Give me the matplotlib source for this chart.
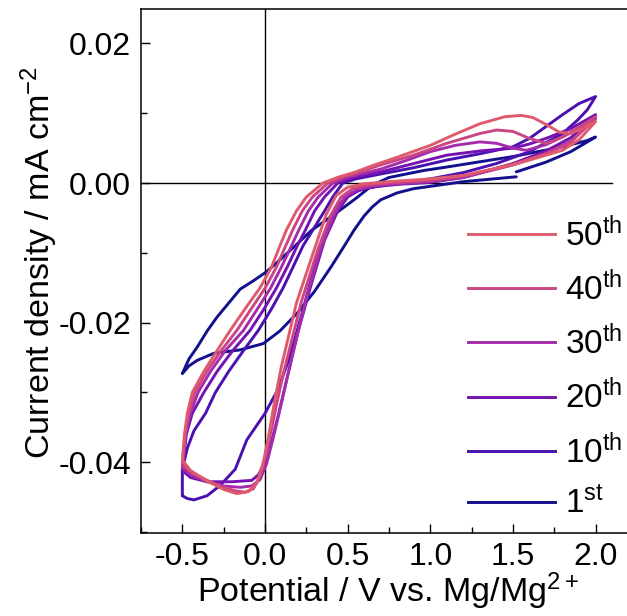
import matplotlib
matplotlib.use("Agg")
import matplotlib.pyplot as plt
from matplotlib.lines import Line2D
from matplotlib.ticker import MultipleLocator, FormatStrFormatter

plt.rcParams['font.family'] = ['Liberation Sans', 'DejaVu Sans']
plt.rcParams['mathtext.fontset'] = 'custom'
plt.rcParams['mathtext.rm'] = 'Liberation Sans'
plt.rcParams['mathtext.it'] = 'Liberation Sans:italic'
plt.rcParams['axes.unicode_minus'] = False

# ---------------- data ----------------
labels = ["1$^{\\mathrm{st}}$", "10$^{\\mathrm{th}}$", "20$^{\\mathrm{th}}$",
          "30$^{\\mathrm{th}}$", "40$^{\\mathrm{th}}$", "50$^{\\mathrm{th}}$"]
colors = ["#12108f", "#4b10b0", "#7412b2", "#a52dab", "#cb4584", "#de5a6c"]

# 1st cycle (open path: start at OCV -> 2.0 V -> -0.5 V -> back to OCV)
c1_x = [1.52, 1.70, 1.85, 2.00, 1.95, 1.80, 1.50, 1.10, 0.96, 0.75, 0.65, 0.55, 0.43,
        0.28, 0.20, 0.10, 0.01, -0.07, -0.15, -0.22, -0.29, -0.35, -0.41, -0.46, -0.50,
        -0.46, -0.41, -0.31, -0.15, -0.01, 0.09, 0.20, 0.30, 0.40, 0.48, 0.54, 0.60,
        0.65, 0.70, 0.80, 0.90, 1.20, 1.52]
c1_y = [0.0016, 0.0030, 0.0045, 0.0066, 0.0061, 0.0052, 0.0038, 0.0023, 0.0018, 0.0008,
        -0.0003, -0.0022, -0.0043, -0.0068, -0.0086, -0.0108, -0.0127, -0.0140, -0.0152,
        -0.0172, -0.0192, -0.0212, -0.0235, -0.0252, -0.0273,
        -0.0262, -0.0254, -0.0244, -0.0239, -0.0230, -0.0212, -0.0185, -0.0155, -0.0120,
        -0.0090, -0.0067, -0.0047, -0.0034, -0.0024, -0.0014, -0.0008, 0.0002, 0.0009]

# cycles 10-50: upper path (vertex -> left branch -> 2.0 V) and lower path
c10_ux = [-0.50, -0.50, -0.47, -0.43, -0.36, -0.30, -0.22, -0.13, -0.04, 0.04, 0.11, 0.17,
          0.23, 0.29, 0.36, 0.41, 0.47, 0.55, 0.70, 0.90, 1.10, 1.30, 1.50, 1.60, 1.70,
          1.80, 1.90, 2.00]
c10_uy = [-0.0448, -0.0410, -0.0380, -0.0355, -0.0330, -0.0300, -0.0270, -0.0240, -0.0211,
          -0.0180, -0.0150, -0.0120, -0.0090, -0.0067, -0.0040, -0.0020, 0.0000, 0.0006,
          0.0013, 0.0022, 0.0033, 0.0042, 0.0052, 0.0064, 0.0081, 0.0098, 0.0114, 0.0124]
c10_lx = [-0.50, -0.47, -0.43, -0.35, -0.27, -0.18, -0.11, 0.00, 0.08, 0.15, 0.22, 0.30,
          0.38, 0.45, 0.52, 0.60, 0.70, 0.80, 1.00, 1.20, 1.40, 1.60, 1.80, 1.89, 1.95, 2.00]
c10_ly = [-0.0448, -0.0452, -0.0454, -0.0448, -0.0433, -0.0410, -0.0368, -0.0330, -0.0295,
          -0.0249, -0.0190, -0.0120, -0.0062, -0.0030, -0.0015, -0.0008, -0.0004, 0.0000,
          0.0006, 0.0015, 0.0028, 0.0045, 0.0071, 0.0090, 0.0105, 0.0124]

c20_ux = [-0.50, -0.476, -0.44, -0.37, -0.29, -0.195, -0.09, -0.005, 0.07, 0.135, 0.195,
          0.245, 0.30, 0.36, 0.44, 0.52, 0.60, 0.70, 0.90, 1.10, 1.30, 1.50, 1.60, 1.70,
          1.85, 2.00]
c20_uy = [-0.0412, -0.0360, -0.0330, -0.0300, -0.0270, -0.0240, -0.0211, -0.0180, -0.0150,
          -0.0120, -0.0090, -0.0067, -0.0040, -0.0020, 0.0000, 0.0007, 0.0011, 0.0016,
          0.0028, 0.0040, 0.0046, 0.0050, 0.0056, 0.0064, 0.0078, 0.0098]
c20_lx = [-0.50, -0.45, -0.35, -0.20, -0.08, -0.04, 0.00, 0.04, 0.08, 0.12, 0.16, 0.20,
          0.28, 0.36, 0.44, 0.50, 0.57, 0.67, 0.80, 1.00, 1.20, 1.50, 1.70, 1.85, 2.00]
c20_ly = [-0.0412, -0.0422, -0.0428, -0.0428, -0.0426, -0.0418, -0.0400, -0.0370, -0.0333,
          -0.0293, -0.0253, -0.0213, -0.0145, -0.0082, -0.0040, -0.0020, -0.0010, -0.0005,
          -0.0002, 0.0001, 0.0008, 0.0028, 0.0046, 0.0065, 0.0098]

c30_ux = [-0.50, -0.480, -0.452, -0.405, -0.33, -0.24, -0.13, -0.045, 0.035, 0.10, 0.16,
          0.205, 0.262, 0.322, 0.41, 0.50, 0.58, 0.70, 0.85, 1.00, 1.15, 1.30, 1.40, 1.50,
          1.58, 1.70, 1.85, 2.00]
c30_uy = [-0.0408, -0.0360, -0.0330, -0.0300, -0.0270, -0.0240, -0.0211, -0.0180, -0.0150,
          -0.0120, -0.0090, -0.0067, -0.0040, -0.0020, 0.0000, 0.0008, 0.0013, 0.0020,
          0.0032, 0.0045, 0.0054, 0.0059, 0.0057, 0.0050, 0.0047, 0.0055, 0.0072, 0.0092]
c30_lx = [-0.50, -0.45, -0.35, -0.25, -0.15, -0.08, -0.03, 0.01, 0.05, 0.09, 0.13, 0.17,
          0.25, 0.34, 0.42, 0.48, 0.55, 0.65, 0.80, 1.00, 1.20, 1.50, 1.70, 1.85, 2.00]
c30_ly = [-0.0408, -0.0418, -0.0428, -0.0434, -0.0436, -0.0434, -0.0425, -0.0402, -0.0365,
          -0.0325, -0.0283, -0.0242, -0.0165, -0.0092, -0.0044, -0.0021, -0.0010, -0.0004,
          -0.0001, 0.0002, 0.0008, 0.0026, 0.0043, 0.0060, 0.0092]

c40_ux = [-0.50, -0.484, -0.462, -0.424, -0.352, -0.265, -0.17, -0.083, 0.002, 0.07, 0.125,
          0.168, 0.225, 0.287, 0.38, 0.46, 0.55, 0.70, 0.90, 1.10, 1.30, 1.40, 1.50, 1.60,
          1.70, 1.80, 1.90, 2.00]
c40_uy = [-0.0403, -0.0360, -0.0330, -0.0300, -0.0270, -0.0240, -0.0211, -0.0180, -0.0150,
          -0.0120, -0.0090, -0.0067, -0.0040, -0.0020, 0.0000, 0.0008, 0.0014, 0.0026,
          0.0040, 0.0057, 0.0071, 0.0076, 0.0074, 0.0064, 0.0057, 0.0066, 0.0080, 0.0095]
c40_lx = [-0.50, -0.45, -0.35, -0.25, -0.18, -0.12, -0.07, -0.03, 0.01, 0.05, 0.09, 0.13,
          0.22, 0.32, 0.40, 0.46, 0.53, 0.62, 0.75, 1.00, 1.20, 1.50, 1.70, 1.85, 2.00]
c40_ly = [-0.0403, -0.0414, -0.0426, -0.0436, -0.0441, -0.0443, -0.0438, -0.0420, -0.0385,
          -0.0340, -0.0295, -0.0255, -0.0170, -0.0095, -0.0045, -0.0020, -0.0008, -0.0003,
          0.0000, 0.0004, 0.0010, 0.0027, 0.0042, 0.0058, 0.0095]

c50_ux = [-0.50, -0.487, -0.470, -0.440, -0.370, -0.290, -0.210, -0.120, -0.030, 0.040,
          0.090, 0.130, 0.190, 0.250, 0.350, 0.45, 0.55, 0.65, 0.80, 1.00, 1.15, 1.30, 1.45,
          1.55, 1.62, 1.70, 1.78, 1.85, 1.92, 2.00]
c50_uy = [-0.0397, -0.0360, -0.0330, -0.0300, -0.0270, -0.0240, -0.0211, -0.0180, -0.0150,
          -0.0120, -0.0090, -0.0067, -0.0040, -0.0020, 0.0000, 0.0009, 0.0016, 0.0025,
          0.0037, 0.0054, 0.0070, 0.0085, 0.0095, 0.0097, 0.0094, 0.0084, 0.0073, 0.0071,
          0.0078, 0.0088]
c50_lx = [-0.50, -0.45, -0.35, -0.25, -0.17, -0.10, -0.05, -0.01, 0.02, 0.06, 0.10, 0.19,
          0.29, 0.37, 0.43, 0.50, 0.60, 0.75, 1.00, 1.20, 1.50, 1.80, 1.90, 2.00]
c50_ly = [-0.0397, -0.0412, -0.0427, -0.0439, -0.0445, -0.0442, -0.0430, -0.0400, -0.0365,
          -0.0310, -0.0262, -0.0172, -0.0101, -0.0045, -0.0018, -0.0006, -0.0001, 0.0002,
          0.0006, 0.0011, 0.0026, 0.0047, 0.0062, 0.0088]

xticks = [-0.5, 0.0, 0.5, 1.0, 1.5, 2.0]
yticks = [-0.04, -0.02, 0.00, 0.02]

# ---------------- figure ----------------
W, H = 627, 616
fig = plt.figure(figsize=(W / 100, H / 100), dpi=100)
ax_left, ax_right, ax_top, ax_bot = 140.7, 645.0, 9.3, 532.7
ax = fig.add_axes([ax_left / W, 1 - ax_bot / H, (ax_right - ax_left) / W,
                   (ax_bot - ax_top) / H])
px_per_v = 165.3
x0_px = 265.0
ax.set_xlim((ax_left - x0_px) / px_per_v, (ax_right - x0_px) / px_per_v)
ax.set_ylim(-0.0501, 0.0249)

# reference lines
ax.axvline(0.0, color='black', lw=1.0, zorder=1)
ax.plot([-0.752, 2.10], [0, 0], color='black', lw=1.0, zorder=1)

loops = [
    (c1_x, c1_y),
    (c10_ux + c10_lx[::-1], c10_uy + c10_ly[::-1]),
    (c20_ux + c20_lx[::-1], c20_uy + c20_ly[::-1]),
    (c30_ux + c30_lx[::-1], c30_uy + c30_ly[::-1]),
    (c40_ux + c40_lx[::-1], c40_uy + c40_ly[::-1]),
    (c50_ux + c50_lx[::-1], c50_uy + c50_ly[::-1]),
]
lw = 2.1
for (xs, ys), col in zip(loops, colors):
    ax.plot(xs, ys, color=col, lw=lw, solid_joinstyle='round', solid_capstyle='round',
            zorder=2)

tfs = 23
lfs = 24.5
gfs = 24
ax.set_xticks(xticks)
ax.set_yticks(yticks)
ax.xaxis.set_major_formatter(FormatStrFormatter('%.1f'))
ax.yaxis.set_major_formatter(FormatStrFormatter('%.2f'))
ax.xaxis.set_minor_locator(MultipleLocator(0.25))
ax.yaxis.set_minor_locator(MultipleLocator(0.01))
ax.tick_params(which='both', direction='in', top=False, right=False, width=1.0,
               labelsize=tfs, colors='black')
ax.tick_params(which='major', length=6.5, pad=7)
ax.tick_params(which='minor', length=4.3)
for s in ax.spines.values():
    s.set_linewidth(1.1)
ax.spines['right'].set_visible(False)

ax.set_xlabel("Potential / V vs. Mg/Mg$^{2+}$", fontsize=lfs)
ax.set_ylabel("Current density / mA cm$^{-2}$", fontsize=lfs)
ax.xaxis.set_label_coords(0.49, -0.072)
ax.yaxis.set_label_coords(-0.16, 0.517)

handles = [Line2D([], [], color=c, lw=lw) for c in colors]
leg = ax.legend(handles[::-1], labels[::-1], loc='upper left',
                bbox_to_anchor=(468 / W, 1 - 217 / H), bbox_transform=fig.transFigure,
                frameon=False, fontsize=gfs, handlelength=2.6, handletextpad=0.3,
                labelspacing=0.55, borderpad=0, borderaxespad=0)

fig.savefig("out.png", dpi=100)
